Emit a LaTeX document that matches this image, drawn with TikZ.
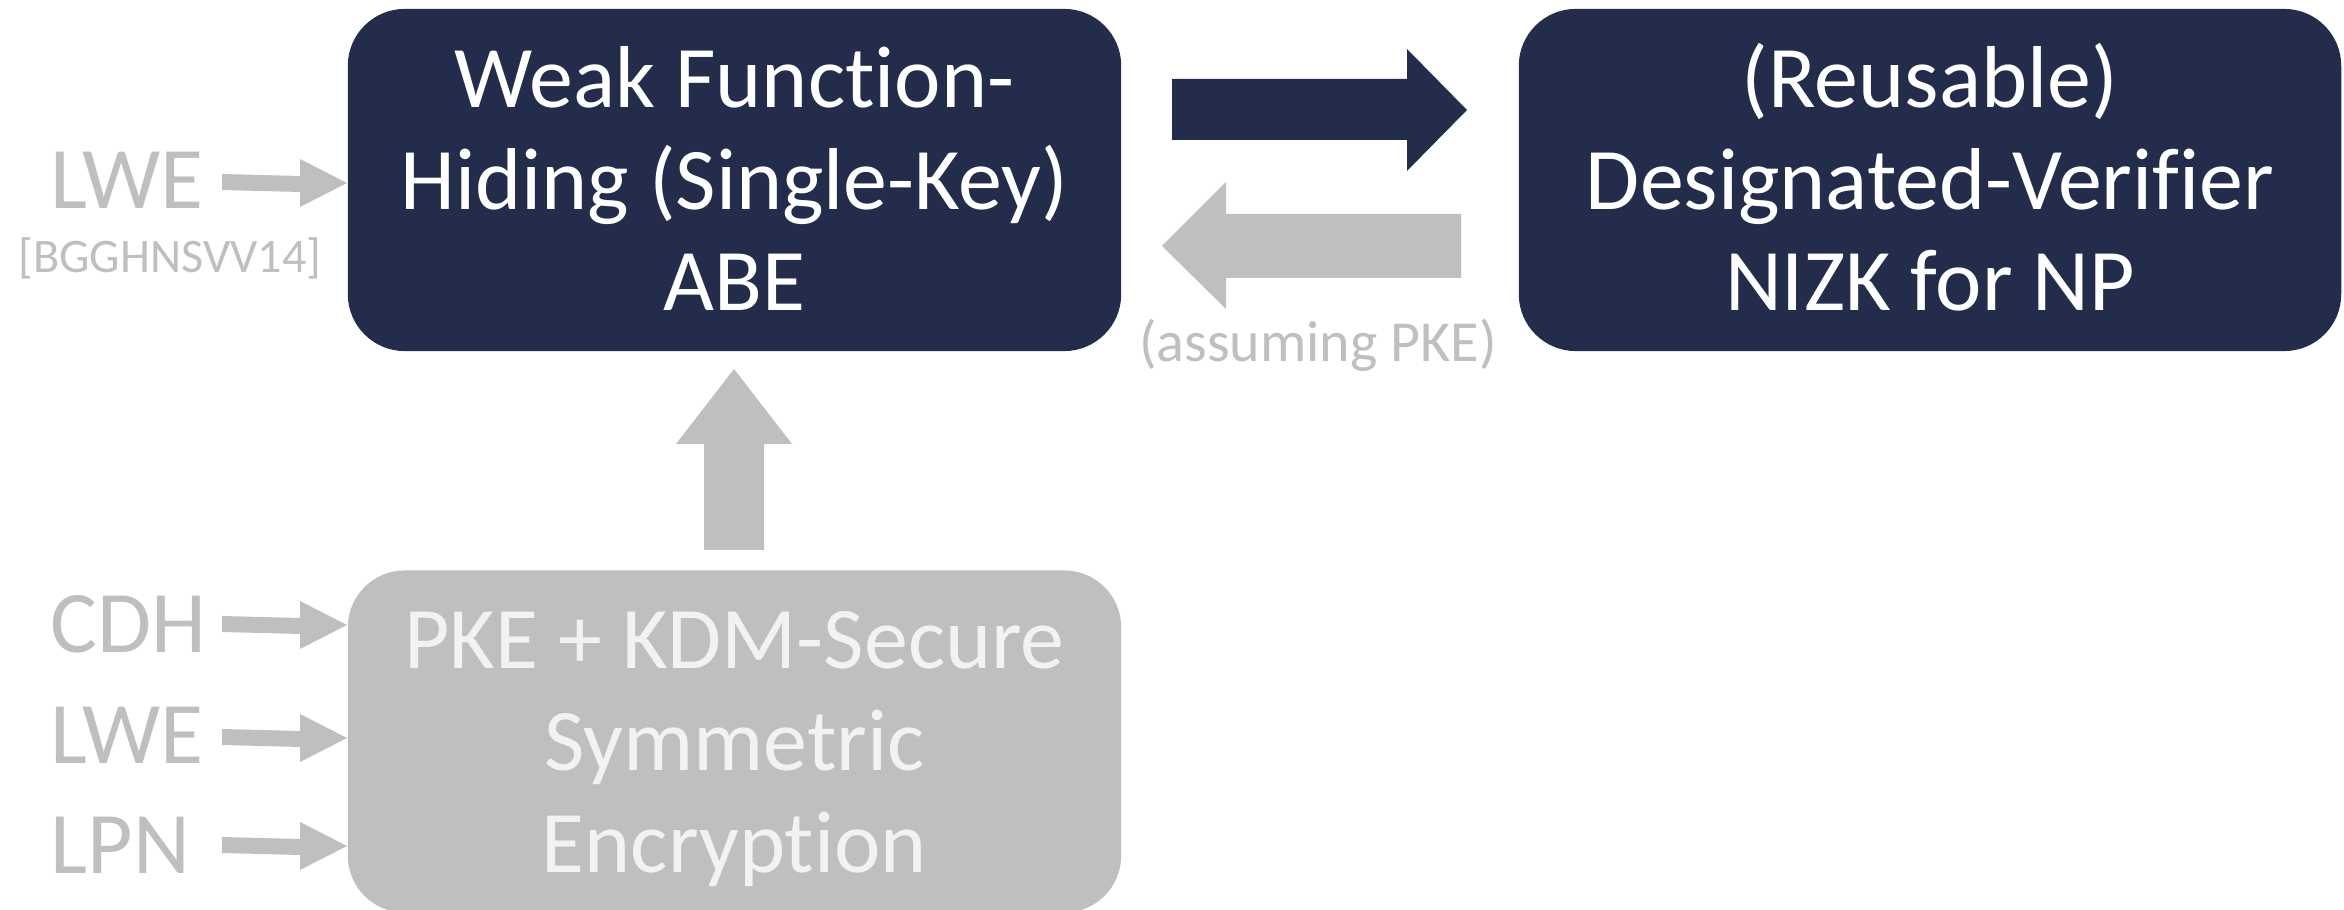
\documentclass[tikz,border=0pt]{standalone}
\usepackage{fontspec}
\setmainfont{Carlito}[Ligatures={NoCommon,NoContextual}]
\definecolor{navy}{HTML}{232C4B}
\definecolor{lgray}{HTML}{BFBFBF}
\definecolor{ltext}{HTML}{F2F2F2}
\newcommand{\myTS}{\rule{0pt}{24pt}}
\newcommand{\myBS}{\rule[-7.5pt]{0pt}{7.5pt}}
\tikzset{
  darkbox/.style={fill=navy, text=white, rounded corners=0.57cm, inner sep=0pt,
    align=center, font=\fontsize{25}{29}\selectfont},
  graybox/.style={fill=lgray, text=ltext, rounded corners=0.57cm, inner sep=0pt,
    align=center, font=\fontsize{25}{29}\selectfont},
  assume/.style={text=lgray, inner sep=0pt, font=\fontsize{25}{29}\selectfont},
  cite/.style={text=lgray, inner sep=0pt, font=\fontsize{13.7}{16}\selectfont},
  note/.style={text=lgray, inner sep=0pt, font=\fontsize{16.5}{19}\selectfont},
}
\begin{document}
\begin{tikzpicture}[x=0.01cm,y=-0.01cm]
\useasboundingbox (0,0) rectangle (2344,910);
% boxes
\node[darkbox, minimum width=7.73cm, minimum height=3.42cm] (abe) at (734.5,180)
  {\myTS Weak Function-\\Hiding (Single-Key)\\ABE\myBS};
\node[darkbox, minimum width=8.22cm, minimum height=3.42cm] (nizk) at (1930,180)
  {\myTS(Reusable)\\Designated-Verifier\\NIZK for NP\myBS};
\node[graybox, minimum width=7.73cm, minimum height=3.42cm] (pke) at (734.5,741.5)
  {\myTS PKE + KDM-Secure\\Symmetric\\Encryption\myBS};
% labels
\node[assume, anchor=base west] (lwea) at (50,209) {LWE};
\node[cite, anchor=base] (cite) at (170,273) {[BGGHNSVV14]};
\node[assume, anchor=base west] (cdh) at (50,653) {CDH};
\node[assume, anchor=base west] (lweb) at (50,764) {LWE};
\node[assume, anchor=base west] (lpn) at (50,874) {LPN};
\node[note, anchor=base] (pkenote) at (1318,362) {(assuming PKE)};
% big arrows
\fill[navy] (1172,79) -- (1407,79) -- (1407,49) -- (1467,110) -- (1407,171)
  -- (1407,140) -- (1172,140) -- cycle;
\fill[lgray] (1461,214) -- (1226,214) -- (1226,182) -- (1162,246) -- (1226,309)
  -- (1226,278) -- (1461,278) -- cycle;
\fill[lgray] (704,550) -- (704,444) -- (676,444) -- (734,369) -- (792,444)
  -- (764,444) -- (764,550) -- cycle;
% small arrows
\foreach \yc in {183,625,738,846}{
  \fill[lgray] (222,\yc-9) -- (300,\yc-7) -- (300,\yc-24) -- (347,\yc) -- (300,\yc+24)
    -- (300,\yc+9) -- (222,\yc+7) -- cycle;
}
\end{tikzpicture}
\end{document}
